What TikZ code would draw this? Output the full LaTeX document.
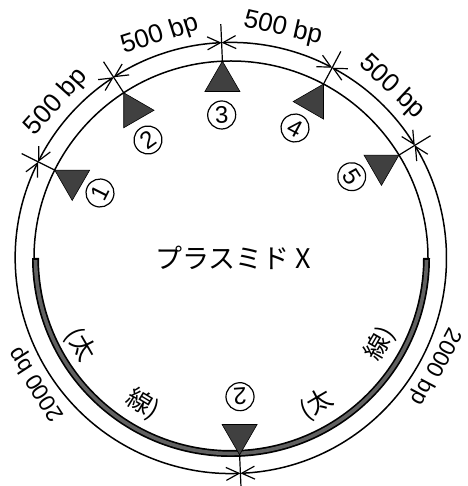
\documentclass[tikz,border=0pt]{standalone}
\usepackage{fontspec}
\setmainfont{Liberation Sans}
\newfontfamily\jp{Noto Sans CJK JP}
\usetikzlibrary{arrows.meta,calc}
\begin{document}
\begin{tikzpicture}[x=1pt,y=1pt,
  circ/.style={line width=1.5pt},
  barb/.tip={Straight Barb[length=13pt,width=13pt,line width=1.2pt]},
  dim/.style={line width=1.5pt, barb-barb},
  tickline/.style={line width=1.2pt},
  tri/.style={fill=black!75, draw=black, line width=0.6pt, line join=miter},
  cnum/.style={circle, draw, line width=1.2pt, minimum size=28pt, inner sep=0pt, font=\fontsize{24}{24}\selectfont},
  bp/.style={font=\fontsize{26}{26}\selectfont, inner sep=0pt},
  bpl/.style={font=\fontsize{23}{23}\selectfont, inner sep=0pt},
  kan/.style={font=\jp\fontsize{25}{25}\selectfont, inner sep=0pt},
]
\useasboundingbox (0,0) rectangle (467,486);
\fill[white] (0,0) rectangle (467,486);
\begin{scope}[shift={(231,228)}]
\def\Ro{215.5}
\def\Ri{197}
\coordinate (c) at (0,0);
% plasmid (inner circle)
\draw[circ] (c) circle[radius=\Ri];
% thick band
\draw[line width=7pt, black] (180:195.5) arc[start angle=180,end angle=360,radius=195.5];
\draw[line width=3.6pt, black!62] (180.6:195.5) arc[start angle=180.6,end angle=359.4,radius=195.5];
% ticks
\foreach \n/\a in {1/153.5, 2/123, 3/92.5, 4/62, 5/31.5, 6/-87.5}{
  \coordinate (i\n) at (\a:\Ri);
  \coordinate (t\n) at (\a:\Ro);
  \coordinate (e\n) at (\a:234);
  \draw[tickline] (i\n) -- (e\n);
}
% dimension arcs
\draw[dim] (t1) arc[start angle=153.5,end angle=123,radius=\Ro];
\draw[dim] (t2) arc[start angle=123,end angle=92.5,radius=\Ro];
\draw[dim] (t3) arc[start angle=92.5,end angle=62,radius=\Ro];
\draw[dim] (t4) arc[start angle=62,end angle=31.5,radius=\Ro];
\draw[dim] (t1) arc[start angle=153.5,end angle=272.5,radius=\Ro];
\draw[dim] (t6) arc[start angle=-87.5,end angle=31.5,radius=\Ro];
% triangles
\foreach \n/\d in {1/150, 2/120, 3/90, 4/60, 5/30, 6/-90}{
  \filldraw[tri] (i\n) -- ++(\d+150:35) -- ++(\d+270:35) -- cycle;
}
% circled numbers
\node[cnum, rotate=63.5] (n1) at (-131,65) {1};
\node[cnum, rotate=35] (n2) at (-83,118) {2};
\node[cnum, rotate=2.5] (n3) at (-9.3,143) {3};
\node[cnum, rotate=-28] (n4) at (64,130) {4};
\node[cnum, rotate=-58] (n5) at (120.7,81.3) {5};
\node[cnum, rotate=-176] (n6) at (9,-138.7) {2};
% length labels
\node[bp, rotate=48.25] (l1) at (138.25:234) {500 bp};
\node[bp, rotate=17.75] (l2) at (107.75:234) {500 bp};
\node[bp, rotate=-12.75] (l3) at (77.25:235) {500 bp};
\node[bp, rotate=-43.25] (l4) at (46.75:235) {500 bp};
\node[bpl, rotate=123] (l5) at (213:231) {2000 bp};
\node[bpl, rotate=-118] (l6) at (-28:231) {2000 bp};
% thick-line labels
\node[kan, rotate=-60] (k1) at (210:174) {(太};
\node[kan, rotate=-31] (k2) at (239:171) {線)};
\node[kan, rotate=30.3] (k3) at (-59.7:170) {(太};
\node[kan, rotate=60] (k4) at (-30:172) {線)};
% title
\node[font=\jp\fontsize{27}{27}\selectfont, inner sep=0pt] (title) at (2,0) {プラスミド X};
\end{scope}
\end{tikzpicture}
\end{document}
